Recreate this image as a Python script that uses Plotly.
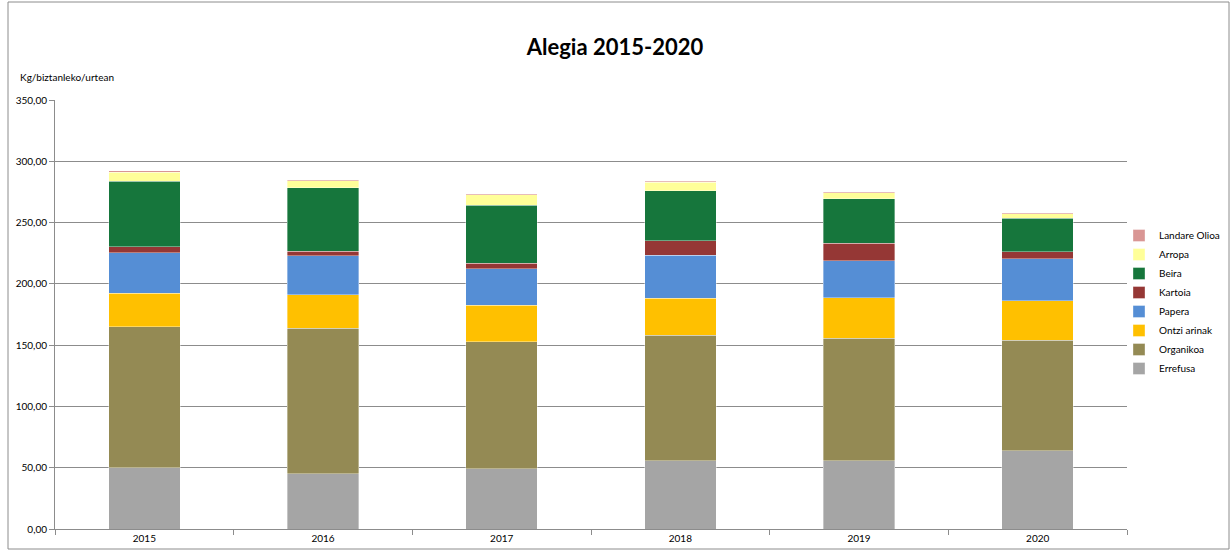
import plotly.graph_objects as go

years = ["2015", "2016", "2017", "2018", "2019", "2020"]

errefusa = [49.8, 45.1, 49.2, 55.5, 55.5, 63.9]
organikoa = [115.4, 118.5, 103.7, 102.7, 100.2, 89.9]
ontzi_arinak = [27.3, 27.5, 29.8, 29.9, 32.9, 32.6]
papera = [32.9, 31.9, 29.6, 35.1, 30.3, 34.1]
kartoia = [4.7, 3.8, 4.7, 11.8, 14.4, 5.5]
beira = [53.6, 51.5, 47.1, 40.8, 36.2, 27.4]
arropa = [7.3, 5.9, 8.4, 7.1, 4.7, 3.9]
landare_olioa = [1.4, 0.8, 1.1, 0.8, 1.0, 0.8]

series = [
    ("Errefusa", errefusa, "#A5A5A5"),
    ("Organikoa", organikoa, "#948A54"),
    ("Ontzi arinak", ontzi_arinak, "#FFC000"),
    ("Papera", papera, "#558ED5"),
    ("Kartoia", kartoia, "#953735"),
    ("Beira", beira, "#16763C"),
    ("Arropa", arropa, "#FFFF99"),
    ("Landare Olioa", landare_olioa, "#D99694"),
]

FONT = "Lato, 'Open Sans', sans-serif"

fig = go.Figure()
for name, vals, col in series:
    fig.add_trace(go.Bar(
        x=years, y=vals, name=name, width=0.4,
        marker=dict(color=col, line=dict(color="rgba(255,255,255,0.45)", width=0.8)),
    ))

L, R, T, B = 55, 103, 100, 21
W, H = 1230, 550
pw, ph = W - L - R, H - T - B

def px2x(px):
    return (px - L) / pw

def py2y(py):
    return (H - B - py) / ph

fig.update_layout(
    width=W, height=H,
    barmode="stack",
    separators=",.",
    plot_bgcolor="white", paper_bgcolor="white",
    margin=dict(l=L, r=R, t=T, b=B, autoexpand=False),
    font=dict(family=FONT, size=10, color="#000000"),
    title=dict(text="<b>Alegia 2015-2020</b>", x=0.5, xanchor="center",
               y=1 - 47 / H, yanchor="middle", font=dict(size=22, family=FONT)),
    legend=dict(traceorder="reversed", x=px2x(1119), xanchor="left",
                y=py2y(221), yanchor="top", font=dict(size=10, family=FONT),
                itemwidth=30, tracegroupgap=0, bgcolor="rgba(0,0,0,0)"),
    showlegend=True,
)

fig.update_yaxes(
    range=[0, 350], dtick=50, tickformat=".2f",
    showgrid=True, gridcolor="#8C8C8C", gridwidth=1,
    showline=True, linecolor="#8C8C8C", linewidth=1,
    ticks="outside", ticklen=5, tickcolor="#8C8C8C",
    tickfont=dict(size=10, family=FONT), zeroline=False,
)
fig.update_xaxes(
    showline=True, linecolor="#8C8C8C", linewidth=1,
    ticks="outside", tickson="boundaries", ticklen=5, tickcolor="#8C8C8C",
    tickfont=dict(size=10, family=FONT),
)

fig.add_annotation(text="Kg/biztanleko/urtean", xref="paper", yref="paper",
                   x=px2x(18), y=py2y(77), xanchor="left", yanchor="middle",
                   showarrow=False, font=dict(size=10, family=FONT))

fig.add_shape(type="rect", xref="paper", yref="paper",
              x0=px2x(8), x1=px2x(1229), y0=py2y(549), y1=py2y(2),
              line=dict(color="#8C8C8C", width=1), fillcolor="rgba(0,0,0,0)",
              layer="below")

fig.write_html("out.html", config={"displayModeBar": False},
               post_script="document.body.style.margin='0';document.body.style.overflow='hidden';")
